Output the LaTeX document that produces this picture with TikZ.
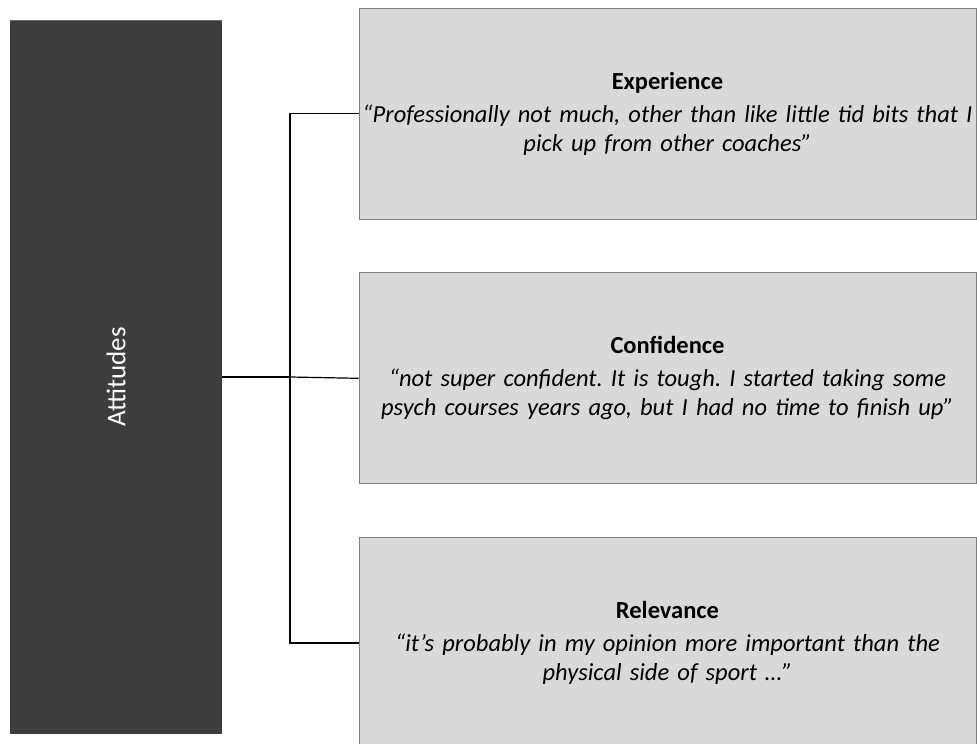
\documentclass[tikz,border=0pt]{standalone}
\usepackage{fontspec}
\setmainfont{Carlito}
\usepackage{graphicx}
\usetikzlibrary{positioning}
\definecolor{attdark} {RGB}{61, 61, 61}
\definecolor{attedge} {RGB}{110,110,110}
\definecolor{themefill}{RGB}{217,217,217}
\definecolor{themeedge}{RGB}{127,127,127}
\tikzset{
  attbox/.style={fill=attdark,draw=attdark,minimum width=211pt,
                 minimum height=712pt,inner sep=0pt,text=white,
                 font=\fontsize{27}{30}\selectfont},
  themebox/.style={fill=themefill,draw=themeedge,line width=0.8pt,
                   minimum width=617pt,minimum height=211pt,
                   text width=615pt,inner sep=1pt,align=center,
                   font=\fontsize{24.5}{29}\selectfont\frenchspacing},
  trunk/.style={line width=1.6pt,black},
  branch/.style={line width=1.2pt,black},
}

\begin{document}
\begin{tikzpicture}[x=1pt,y=-1pt]
  \useasboundingbox (0,0) rectangle (977,744);
  \node[attbox] (att) at (116,377) {\rotatebox{90}{Attitudes}};
  \draw[attedge,line width=0.8pt] (att.north west) -- (att.north east);

  \node[themebox] (exp) at (667.5,113.5)
    {\textbf{Experience}\\[4pt]
     \textit{“Professionally not much, other than like little tid bits that I\\
     pick up from other coaches”}};
  \node[themebox,below=53pt of exp] (conf)
    {\textbf{Confidence}\\[4pt]
     \textit{“not super confident. It is tough. I started taking some\\
     psych courses years ago, but I had no time to finish up”}};
  \node[themebox,below=53pt of conf] (rel)
    {\textbf{Relevance}\\[4pt]
     \textit{“it’s probably in my opinion more important than the\\
     physical side of sport …”}};

  \coordinate (hub) at (290,377);
  \draw[trunk] (att.east) -- (hub);
  \draw[trunk] (hub) |- (exp.west);
  \draw[trunk] (hub) |- (rel.west);
  \draw[branch] (hub) -- (conf.west);
\end{tikzpicture}
\end{document}
